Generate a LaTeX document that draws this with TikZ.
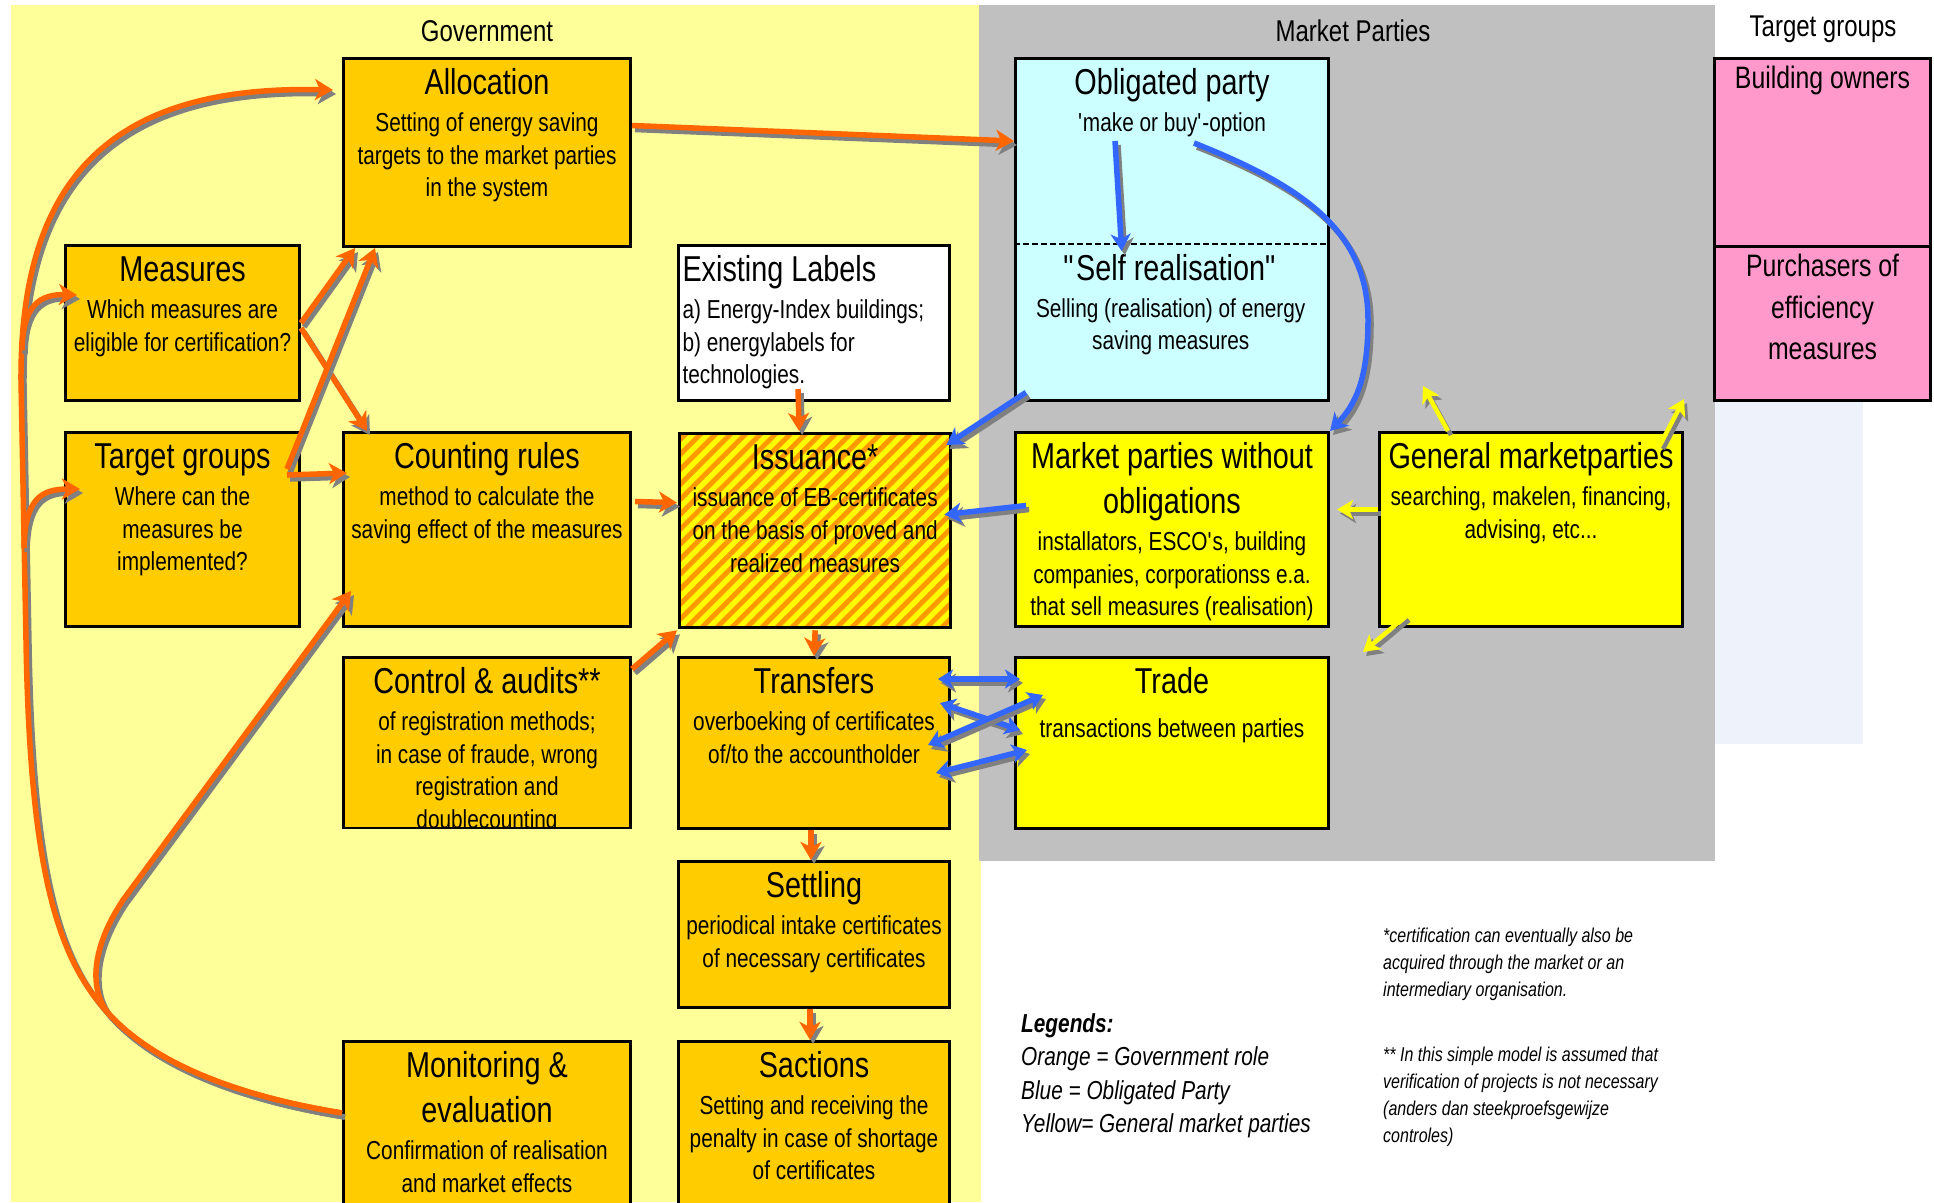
\documentclass[tikz,border=0pt]{standalone}
\usepackage{fontspec}
\setmainfont{Liberation Sans}[FakeStretch=0.8]
\usepackage{xcolor}
\usepackage{tikz}
\usetikzlibrary{arrows.meta,patterns.meta,calc}

\definecolor{govbg}{HTML}{FFFF99}
\definecolor{marketbg}{HTML}{C0C0C0}
\definecolor{palebg}{HTML}{EEF3FB}
\definecolor{govfill}{HTML}{FFCC00}
\definecolor{oblfill}{HTML}{CCFFFF}
\definecolor{mktfill}{HTML}{FFFF00}
\definecolor{tgfill}{HTML}{FF99CC}
\definecolor{stripeorange}{HTML}{FF9900}
\definecolor{arrorange}{HTML}{FF6600}
\definecolor{arrblue}{HTML}{3366FF}
\definecolor{arryellow}{HTML}{FFFF00}
\definecolor{shadegray}{HTML}{808080}

\newcommand{\titlefont}{\fontsize{36}{45}\selectfont}
\newcommand{\bodyfont}{\fontsize{26}{32.8}\selectfont}
% box text: [gap], width, height, title, body
\newcommand{\cell}[5][4]{\parbox[c][#3pt][t]{#2pt}{\centering\titlefont\rule{0pt}{36pt}#4\par\bodyfont\vspace{#1pt}#5\par}}
\newcommand{\cellleft}[4]{\parbox[c][#2pt][t]{#1pt}{\raggedright\leftskip=4pt\titlefont\rule{0pt}{36pt}#3\par\bodyfont\vspace{4pt}#4\par}}
\newcommand{\tgcell}[3]{\parbox[c][#2pt][t]{#1pt}{\centering\fontsize{31}{41.5}\selectfont\rule{0pt}{30pt}#3\par}}
% arrow with gray drop shadow: style, path
\newcommand{\shadedarrow}[2]{\draw[#1, draw=shadegray, transform canvas={shift={(3pt,-4pt)}}] #2; \draw[#1] #2;}

\begin{document}
\begin{tikzpicture}[x=1pt, y=-1pt,
    box/.style={draw, line width=3pt, inner sep=0pt, anchor=north west},
    govbox/.style={box, fill=govfill},
    mktbox/.style={box, fill=mktfill},
    tgbox/.style={box, fill=tgfill},
    issuebox/.style={box, preaction={fill=stripeorange}, pattern={Lines[angle=45,distance=10.6pt,line width=5.3pt]}, pattern color=mktfill},
    header/.style={anchor=base, inner sep=0pt, font=\fontsize{30}{36}\selectfont},
    note/.style={anchor=base west, inner sep=0pt},
    oarrow/.style={draw=arrorange, line width=5.5pt, -{Stealth[length=18pt,width=21pt,inset=5pt]}},
    barrow/.style={draw=arrblue, line width=5.5pt, -{Stealth[length=17pt,width=20pt,inset=5pt]}},
    bdarrow/.style={draw=arrblue, line width=5.5pt, {Stealth[length=15pt,width=19pt,inset=4pt]}-{Stealth[length=15pt,width=19pt,inset=4pt]}},
    yarrow/.style={draw=arryellow, line width=4.5pt, -{Stealth[length=16pt,width=19pt,inset=4pt]}}]
    \useasboundingbox (0,0) rectangle (1934,1202);

    % backgrounds
    \fill[govbg] (11,5) rectangle (981,1202);
    \fill[marketbg] (979,5) rectangle (1715,861);
    \fill[palebg] (1715,399) rectangle (1863,744);

    \node[header] (govhead) at (487,41) {Government};
    \node[header] (mkthead) at (1353,41) {Market Parties};
    \node[header] (tghead) at (1823,36) {Target groups};

    % government
    \node[govbox] (alloc) at (342,57) {\cell{287}{188}{Allocation}{Setting of energy saving\\targets to the market parties\\in the system}};
    \node[govbox] (meas) at (64,244) {\cell{234}{155}{Measures}{Which measures are\\eligible for certification?}};
    \node[govbox] (tgrp) at (64,431) {\cell{234}{194}{Target groups}{Where can the\\measures be\\implemented?}};
    \node[govbox] (count) at (342,431) {\cell{287}{194}{Counting rules}{method to calculate the\\saving effect of the measures}};
    \node[box, fill=white] (labels) at (677,244) {\cellleft{271}{155}{Existing Labels}{a) Energy-Index buildings;\\b) energylabels for\\technologies.}};
    \node[issuebox] (issue) at (677,431) {\cell{271}{194}{Issuance*}{issuance of EB-certificates\\on the basis of proved and\\realized measures}};
    \begin{scope}
        \clip (330,640) rectangle (640,828.5);
        \node[govbox] (ctrl) at (342,656) {\cell{287}{171}{Control \& audits**}{of registration methods;\\in case of fraude, wrong\\registration and\\doublecounting}};
    \end{scope}
    \node[govbox] (trans) at (677,656) {\cell{271}{171}{Transfers}{overboeking of certificates\\of/to the accountholder}};
    \node[govbox] (settle) at (677,860) {\cell{271}{146}{Settling}{periodical intake certificates\\of necessary certificates}};
    \node[govbox] (monit) at (342,1040) {\cell{287}{220}{Monitoring \&\\evaluation}{Confirmation of realisation\\and market effects}};
    \node[govbox] (sanct) at (677,1040) {\cell{271}{220}{Sactions}{Setting and receiving the\\penalty in case of shortage\\of certificates}};

    % market parties
    \node[box, fill=oblfill] (oblig) at (1014,57) {\cell{313}{342}{Obligated party}{\textquotesingle make or buy\textquotesingle -option}};
    \node[inner sep=0pt, anchor=north west] (self) at (1014,244) {\cell{313}{155}{\textquotedbl Self realisation\textquotedbl}{Selling (realisation) of energy\\saving measures}};
    \draw[line width=2pt, dash pattern=on 6pt off 3pt] (self.north west) -- (self.north east);
    \node[mktbox] (mkt) at (1014,431) {\cell{313}{194}{Market parties without\\obligations}{installators, ESCO\textquotesingle s, building\\companies, corporationss e.a.\\that sell measures (realisation)}};
    \node[mktbox] (gen) at (1378,431) {\cell{303}{194}{General marketparties}{searching, makelen, financing,\\advising, etc...}};
    \node[mktbox] (trade) at (1014,656) {\cell[11]{313}{171}{Trade}{transactions between parties}};

    % target groups
    \node[tgbox] (owners) at (1713,57) {\tgcell{216}{188}{Building owners}};
    \node[tgbox] (purch) at (1713,245) {\tgcell{216}{154}{Purchasers of\\efficiency\\measures}};

    % legend and footnotes
    \node[note] (legend) at (1021,1032) {\parbox[t]{420pt}{\fontsize{26}{33.5}\selectfont\itshape\textbf{Legends:}\\Orange = Government role\\Blue = Obligated Party\\Yellow= General market parties}};
    \node[note] (fnone) at (1383,942) {\parbox[t]{420pt}{\fontsize{20}{27}\selectfont\itshape *certification can eventually also be\\acquired through the market or an\\intermediary organisation.}};
    \node[note] (fntwo) at (1383,1061) {\parbox[t]{420pt}{\fontsize{20}{27}\selectfont\itshape ** In this simple model is assumed that\\verification of projects is not necessary\\(anders dan steekproefsgewijze\\controles)}};

    % orange: government role
    \shadedarrow{oarrow}{([yshift=27pt]alloc.east) -- ([yshift=-84pt]oblig.north west)}
    \shadedarrow{oarrow}{(meas.east) -- ([xshift=13pt]alloc.south west)}
    \shadedarrow{oarrow}{([yshift=-5pt]meas.east) -- ([xshift=25pt]count.north west)}
    \shadedarrow{oarrow}{([xshift=-14pt,yshift=-38pt]tgrp.north east) -- ([xshift=33pt]alloc.south west)}
    \shadedarrow{oarrow}{([xshift=-14pt,yshift=-44pt]tgrp.north east) -- ([xshift=5pt,yshift=-42pt]count.north west)}
    \shadedarrow{oarrow}{([xshift=3pt,yshift=28pt]count.east) -- ([yshift=28pt]issue.west)}
    \shadedarrow{oarrow}{([xshift=-16pt,yshift=13pt]labels.south) -- ([xshift=-16pt]issue.north)}
    \shadedarrow{oarrow}{(issue.south) -- (trans.north)}
    \shadedarrow{oarrow}{([xshift=-3pt]trans.south) -- ([xshift=-3pt]settle.north)}
    \shadedarrow{oarrow}{([xshift=-4pt]settle.south) -- ([xshift=-4pt]sanct.north)}
    \shadedarrow{oarrow}{([yshift=-13pt]ctrl.north east) -- (issue.south west)}

    % feedback from monitoring
    \coordinate (junc) at (108,1013);
    \coordinate (tomeas) at (22,350);
    \coordinate (totgrp) at (24,548);
    \shadedarrow{oarrow}{([yshift=-73pt]monit.north west) .. controls (230,1095) and (150,1060) .. (junc)
        .. controls (60,960) and (30,880) .. (26,640) -- (21,380)
        .. controls (20,170) and (120,85) .. ([xshift=-9pt,yshift=-33pt]alloc.north west)}
    \shadedarrow{oarrow}{([yshift=-73pt]monit.north west) .. controls (230,1095) and (150,1060) .. (junc)
        .. controls (90,990) and (90,950) .. (123,900) -- ([xshift=9pt,yshift=37pt]count.south west)}
    \shadedarrow{oarrow}{(tomeas) .. controls (23,305) and (40,294) .. ([xshift=13pt,yshift=-51pt]meas.north west)}
    \shadedarrow{oarrow}{(totgrp) .. controls (25,500) and (40,489) .. ([xshift=16pt,yshift=-58pt]tgrp.north west)}

    % blue: obligated party
    \shadedarrow{barrow}{([xshift=-57pt,yshift=-84pt]oblig.north) -- ([xshift=-49pt,yshift=-7pt]self.north)}
    \shadedarrow{barrow}{([xshift=22pt,yshift=-86pt]oblig.north) .. controls (1300,185) and (1368,230) .. (1368,320)
        .. controls (1368,380) and (1355,405) .. (mkt.north east)}
    \shadedarrow{barrow}{([xshift=12pt,yshift=7pt]self.south west) -- ([xshift=-7pt,yshift=-14pt]issue.north east)}
    \shadedarrow{barrow}{([xshift=12pt,yshift=24pt]mkt.west) -- ([xshift=-9pt,yshift=16pt]issue.east)}
    \foreach \ax/\ay/\bx/\by in {-13pt/-23pt/6pt/-23pt, -11pt/-47pt/6pt/-74pt, -23pt/-89pt/29pt/-39pt, -15pt/-117pt/13pt/-94pt} {
        \shadedarrow{bdarrow}{([xshift=\ax,yshift=\ay]trans.north east) -- ([xshift=\bx,yshift=\by]trade.north west)}
    }

    % yellow: general market parties
    \coordinate (ynw) at (1423,386);
    \coordinate (yne) at (1684,399);
    \coordinate (ysw) at (1363,652);
    \shadedarrow{yarrow}{([yshift=20pt]gen.west) -- ([xshift=7pt,yshift=20pt]mkt.east)}
    \shadedarrow{yarrow}{([xshift=70pt]gen.north west) -- (ynw)}
    \shadedarrow{yarrow}{([xshift=-24pt,yshift=-14pt]gen.north east) -- (yne)}
    \shadedarrow{yarrow}{([xshift=28pt,yshift=12pt]gen.south west) -- (ysw)}
\end{tikzpicture}
\end{document}
